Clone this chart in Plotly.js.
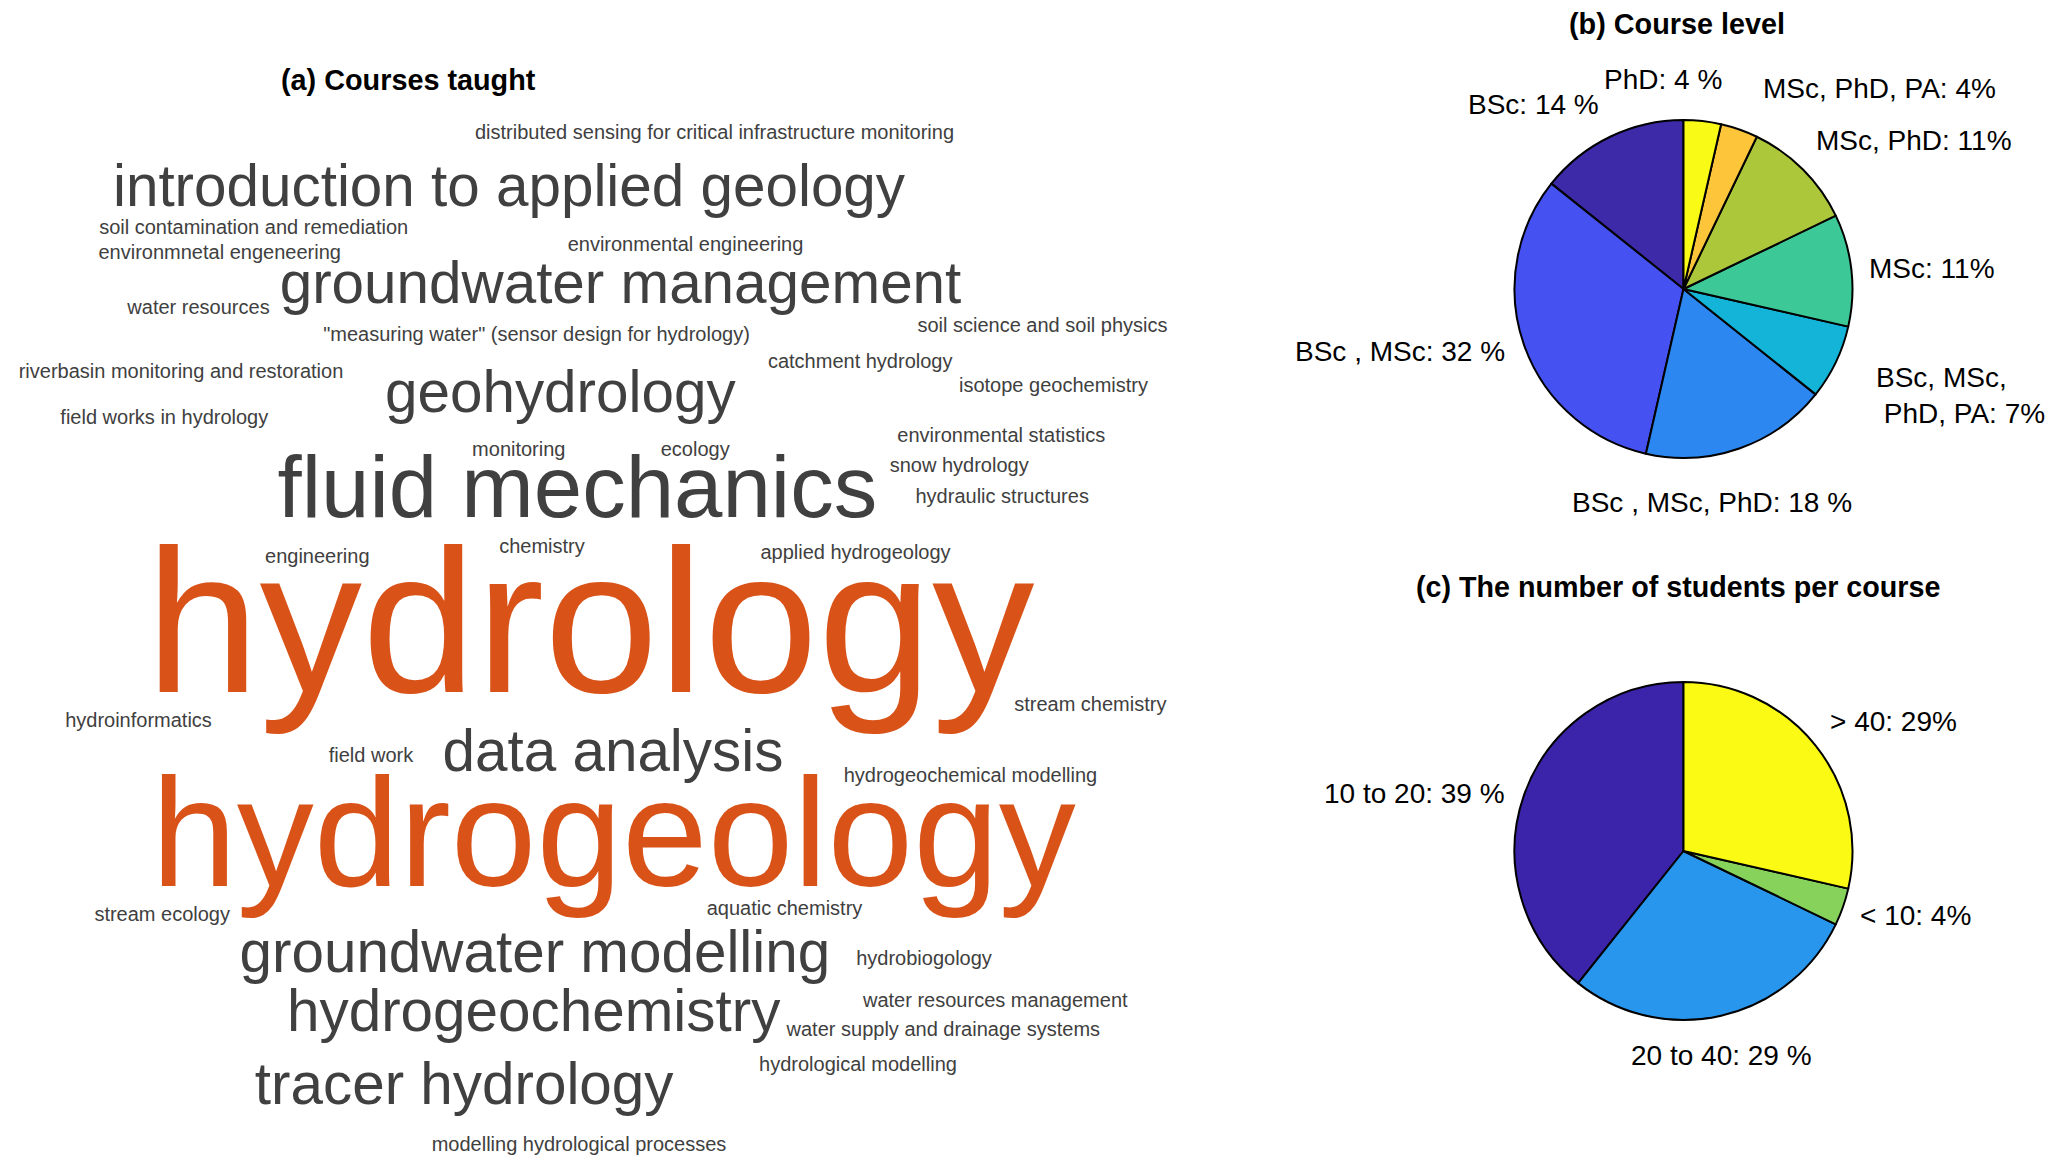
<!DOCTYPE html>
<html><head><meta charset="utf-8">
<script src="https://cdn.plot.ly/plotly-3.0.1.min.js"></script>
<style>html,body{margin:0;padding:0;background:#fff;}</style>
</head><body><div id="chart" style="width:2067px;height:1169px;"></div>
<script>
// ---------------- DATA ----------------
// (a) Courses taught: word and (estimated) number of mentions
const courseWords = [
  "distributed sensing for critical infrastructure monitoring",
  "introduction to applied geology",
  "soil contamination and remediation",
  "environmnetal engeneering",
  "environmental engineering",
  "groundwater management",
  "water resources",
  "\"measuring water\" (sensor design for hydrology)",
  "soil science and soil physics",
  "catchment hydrology",
  "riverbasin monitoring and restoration",
  "geohydrology",
  "isotope geochemistry",
  "field works in hydrology",
  "environmental statistics",
  "monitoring",
  "ecology",
  "snow hydrology",
  "fluid mechanics",
  "hydraulic structures",
  "engineering",
  "chemistry",
  "applied hydrogeology",
  "hydrology",
  "stream chemistry",
  "hydroinformatics",
  "field work",
  "data analysis",
  "hydrogeochemical modelling",
  "hydrogeology",
  "stream ecology",
  "aquatic chemistry",
  "groundwater modelling",
  "hydrobiogology",
  "water resources management",
  "hydrogeochemistry",
  "water supply and drainage systems",
  "hydrological modelling",
  "tracer hydrology",
  "modelling hydrological processes"
];
const courseCounts = [1,3,1,1,1,3,1,1,1,1,1,3,1,1,1,1,1,1,4,1,1,1,1,8,1,1,1,3,1,6,1,1,3,1,1,3,1,1,3,1];

// (b) Course level
const levelNames  = ["BSc","BSc , MSc","BSc , MSc, PhD","BSc, MSc,<br>\u00a0PhD, PA","MSc","MSc, PhD","MSc, PhD, PA","PhD"];
const levelCounts = [4,9,5,2,3,3,1,1];

// (c) The number of students per course
const studentNames  = ["10 to 20","20 to 40","< 10","> 40"];
const studentCounts = [11,8,1,8];

// ---------------- STYLE / LAYOUT ----------------
const W = 2067, H = 1169;
const FONT = "Liberation Sans, Arial, Helvetica, sans-serif";
const GRAY = "#404040", ORANGE = "#D95319";
const sizeForCount = {1: 20, 3: 58.4, 4: 87, 6: 154, 8: 205};
// word placement in the cloud: [centre x, baseline y] in figure pixels
const wordPlace = [
  [714.5,139.3],[509,206],[253.7,234],[219.7,259.3],[685.5,250.7],[620.5,303.5],[198.5,314.3],
  [536.5,340.5],[1042.5,331.7],[860.2,368.3],[181,377.7],[560.3,411.7],[1053.5,391.7],[164.3,424],
  [1001.3,441.7],[518.8,456],[695.2,456],[959.2,471.7],[577.4,517.3],[1002.2,503.3],[317.3,563.3],
  [542,553.3],[855.5,559],[590,692.3],[1090.3,711],[138.5,726.7],[371,761.7],[613,770.7],
  [970.5,781.7],[613.5,886.3],[162.2,920.7],[784.5,914.7],[534.9,972.3],[924,965],[995.3,1007],
  [533.7,1030.7],[943.3,1035.7],[858,1070.7],[464.2,1104],[579,1150.7]
];

const levelColors = ["#3D2AA9","#4651F1","#2C88F0","#13B4D8","#3DC897","#ADC73B","#FCC53A","#F9FA16"];
const levelPctSep = [" "," "," ","","","","", " "];
const levelLabelStyle = [
  {xa:"right",dx:-2,dy:-16.6},{xa:"right",dx:-1.5,dy:1.4},{xa:"center",dx:-33,dy:38},
  {xa:"left",dx:23,dy:26},{xa:"left",dx:-1,dy:0.4},{xa:"left",dx:-1,dy:-16.6},
  {xa:"left",dx:16,dy:-24.6},{xa:"center",dx:-41,dy:-24.6}
];
const studentColors = ["#3C24AA","#2896EC","#86D25B","#FAFA14"];
const studentPctSep = [" "," ","",""];
const studentLabelStyle = [
  {xa:"right",dx:-1.5,dy:4},{xa:"center",dx:-3.5,dy:23},{xa:"left",dx:-1,dy:3},{xa:"left",dx:-1,dy:-14}
];

const pieB = {cx:1683.5, cy:289, r:169};
const pieC = {cx:1683.5, cy:851, r:169};

function domainOf(p){
  return {x:[(p.cx-p.r)/W,(p.cx+p.r)/W], y:[(H-p.cy-p.r)/H,(H-p.cy+p.r)/H]};
}
// Plotly puts the first slice clockwise of 12 o'clock when drawing counterclockwise;
// rotate back by the first slice so it starts at 12 o'clock (as in the reference)
function firstSliceRotation(counts){
  const total = counts.reduce((a,b)=>a+b,0);
  return -360*counts[0]/total;
}

function pieLabels(names, counts, seps, styles, p){
  const total = counts.reduce((a,b)=>a+b,0);
  let start = 90; const out = [];
  const R = 1.1*p.r;
  counts.forEach((v,i)=>{
    const span = v/total*360; const mid = (start + span/2)*Math.PI/180;
    start += span;
    const pct = Math.round(v/total*100);
    const st = styles[i];
    out.push({
      xref:"x", yref:"y",
      x: p.cx + R*Math.cos(mid) + st.dx,
      y: p.cy - R*Math.sin(mid) + st.dy,
      text: names[i] + ": " + pct + seps[i] + "%",
      showarrow:false, xanchor:st.xa, yanchor:"middle", align:"left",
      font:{family:FONT, size:28, color:"#000"}
    });
  });
  return out;
}

const wordSizes = courseCounts.map(c=>sizeForCount[c]);
const wordTrace = {
  type:"scatter", mode:"text", xaxis:"x", yaxis:"y",
  x: wordPlace.map(p=>p[0]),
  y: wordPlace.map((p,i)=>p[1]-0.25*wordSizes[i]),
  text: courseWords,
  textposition:"middle center",
  textfont:{family:FONT, size:wordSizes, color:courseCounts.map(c=>c>=6?ORANGE:GRAY)},
  hoverinfo:"none", cliponaxis:false, showlegend:false
};

const pieTraceB = {
  type:"pie", values:levelCounts, labels:levelNames, sort:false, direction:"counterclockwise",
  rotation:firstSliceRotation(levelCounts), textinfo:"none", hoverinfo:"none", domain:domainOf(pieB),
  marker:{colors:levelColors, line:{color:"#000", width:2}}, showlegend:false
};
const pieTraceC = {
  type:"pie", values:studentCounts, labels:studentNames, sort:false, direction:"counterclockwise",
  rotation:firstSliceRotation(studentCounts), textinfo:"none", hoverinfo:"none", domain:domainOf(pieC),
  marker:{colors:studentColors, line:{color:"#000", width:2}}, showlegend:false
};

const titles = [
  {x:408, y:80.4, text:"<b>(a) Courses taught</b>", size:28.8},
  {x:1677, y:23.7, text:"<b>(b) Course level</b>", size:28.8},
  {x:1678, y:586.6, text:"<b>(c) The number of students per course</b>", size:28.7}
].map(t=>({xref:"x", yref:"y", x:t.x, y:t.y, text:t.text, showarrow:false,
  xanchor:"center", yanchor:"middle", font:{family:FONT, size:t.size, color:"#000"}}));

const annotations = titles
  .concat(pieLabels(levelNames, levelCounts, levelPctSep, levelLabelStyle, pieB))
  .concat(pieLabels(studentNames, studentCounts, studentPctSep, studentLabelStyle, pieC));

const layout = {
  width:W, height:H, margin:{l:0,r:0,t:0,b:0,pad:0},
  paper_bgcolor:"#fff", plot_bgcolor:"rgba(0,0,0,0)",
  xaxis:{range:[0,W], visible:false, fixedrange:true, domain:[0,1]},
  yaxis:{range:[H,0], visible:false, fixedrange:true, domain:[0,1]},
  showlegend:false, annotations:annotations,
  font:{family:FONT}
};

Plotly.newPlot("chart", [wordTrace, pieTraceB, pieTraceC], layout, {displayModeBar:false, staticPlot:true});
</script></body></html>
